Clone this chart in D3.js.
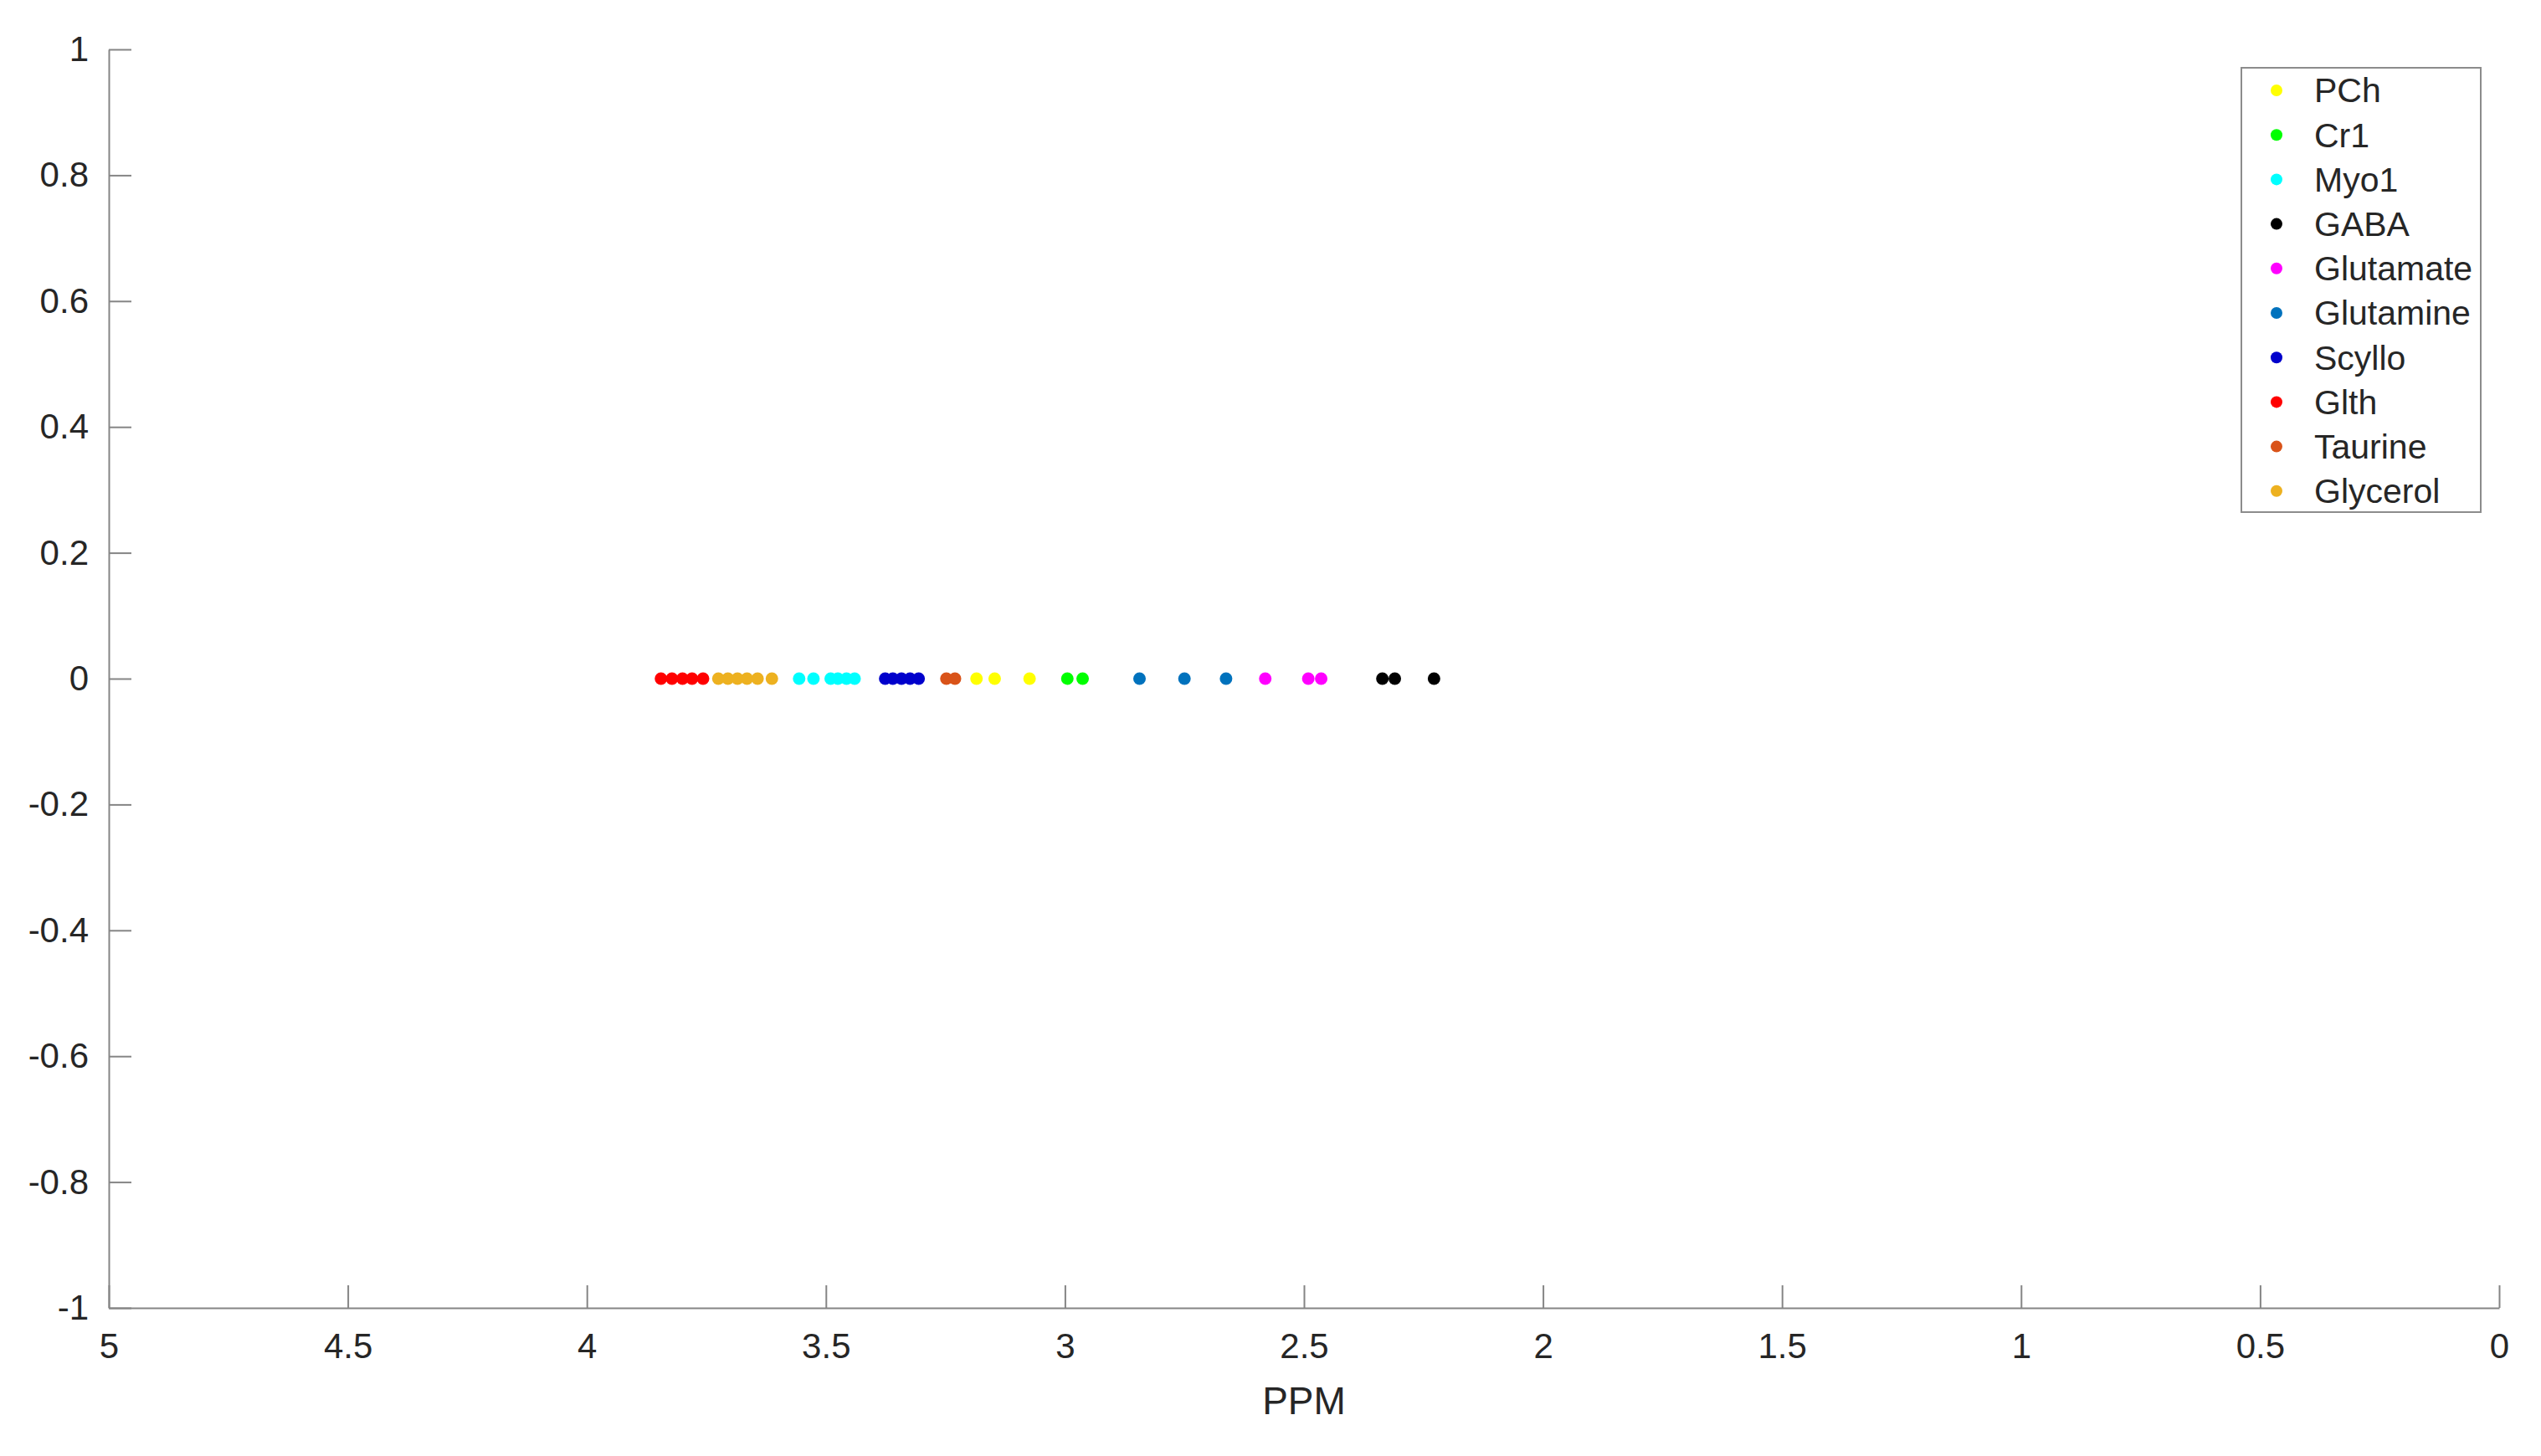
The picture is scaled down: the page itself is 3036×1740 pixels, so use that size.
<!DOCTYPE html>
<html>
<head>
<meta charset="utf-8">
<script src="https://cdn.jsdelivr.net/npm/d3@7"></script>
<style>
  body { margin: 0; background: #fff; }
  text { font-family: "Liberation Sans", Arial, sans-serif; fill: #262626; }
</style>
</head>
<body>
<div id="chart"></div>
<script>
// metabolite names, colours and peak positions (ppm), y is always 0
var names = ["PCh", "Cr1", "Myo1", "GABA", "Glutamate", "Glutamine", "Scyllo", "Glth", "Taurine", "Glycerol"];
var colors = ["#ffff00", "#00ff00", "#00ffff", "#000000", "#ff00ff", "#0072bd", "#0000cc", "#ff0000", "#d95319", "#edb120"];

var PCh = [3.185, 3.147, 3.074];
var Cr1 = [2.995, 2.963];
var Myo1 = [3.556, 3.526, 3.49, 3.475, 3.457, 3.44];
var GABA = [2.336, 2.31, 2.228];
var Glutamate = [2.581, 2.491, 2.464];
var Glutamine = [2.844, 2.75, 2.663];
var Scyllo = [3.376, 3.36, 3.342, 3.324, 3.306];
var Glth = [3.845, 3.822, 3.80, 3.78, 3.757];
var Taurine = [3.248, 3.23];
var Glycerol = [3.725, 3.705, 3.685, 3.665, 3.643, 3.613];

var xTicks = [5, 4.5, 4, 3.5, 3, 2.5, 2, 1.5, 1, 0.5, 0];
var yTicks = [-1, -0.8, -0.6, -0.4, -0.2, 0, 0.2, 0.4, 0.6, 0.8, 1];

var series = [PCh, Cr1, Myo1, GABA, Glutamate, Glutamine, Scyllo, Glth, Taurine, Glycerol];

var width = 3036, height = 1740,
    margin = {top: 59, right: 50, bottom: 177, left: 130};

var svg = d3.select("#chart").append("svg")
  .attr("width", width)
  .attr("height", height);

var x = d3.scaleLinear().domain([5, 0]).range([margin.left, width - margin.right]);
var y = d3.scaleLinear().domain([-1, 1]).range([height - margin.bottom, margin.top]);

var fmt = function(d) { return String(+d.toFixed(1)); };

// x axis, ticks pointing inward
var gx = svg.append("g")
  .attr("transform", "translate(0," + y(-1) + ")")
  .call(d3.axisBottom(x).tickValues(xTicks).tickFormat(fmt).tickSizeInner(-27).tickSizeOuter(0).tickPadding(30));
gx.select(".domain").attr("stroke", "#858585").attr("stroke-width", 2);
gx.selectAll(".tick line").attr("stroke", "#858585").attr("stroke-width", 2);
gx.selectAll("text").style("font-size", "42px").attr("fill", "#262626");

var gy = svg.append("g")
  .attr("transform", "translate(" + x(5) + ",0)")
  .call(d3.axisLeft(y).tickValues(yTicks).tickFormat(fmt).tickSizeInner(-27).tickSizeOuter(0).tickPadding(24));
gy.select(".domain").attr("stroke", "#858585").attr("stroke-width", 2);
gy.selectAll(".tick line").attr("stroke", "#858585").attr("stroke-width", 2);
gy.selectAll("text").style("font-size", "42px").attr("fill", "#262626");

svg.append("text")
  .attr("x", (x(5) + x(0)) / 2)
  .attr("y", 1690)
  .attr("text-anchor", "middle")
  .style("font-size", "46px")
  .text("PPM");

// points
var pts = [];
series.forEach(function(s, k) {
  s.forEach(function(v) {
    pts.push({ppm: v, val: 0, color: colors[k]});
  });
});

svg.append("g").selectAll("circle")
  .data(pts)
  .enter()
  .append("circle")
  .attr("cx", function(d) { return x(d.ppm); })
  .attr("cy", function(d) { return y(d.val); })
  .attr("r", 7.5)
  .style("fill", function(d) { return d.color; });

// legend
var lg = svg.append("g").attr("transform", "translate(2678,81)");
lg.append("rect")
  .attr("width", 286)
  .attr("height", 531)
  .attr("fill", "#fff")
  .attr("stroke", "#8c8c8c")
  .attr("stroke-width", 2);

var rows = lg.selectAll("g.row")
  .data(names)
  .enter()
  .append("g")
  .attr("class", "row")
  .attr("transform", function(d, i) { return "translate(0," + (27 + i * 53.2) + ")"; });

rows.append("circle")
  .attr("cx", 42)
  .attr("cy", 0)
  .attr("r", 7)
  .style("fill", function(d, i) { return colors[i]; });

rows.append("text")
  .attr("x", 87)
  .attr("y", 0)
  .attr("dy", "0.35em")
  .style("font-size", "41px")
  .text(function(d) { return d; });
</script>
</body>
</html>
